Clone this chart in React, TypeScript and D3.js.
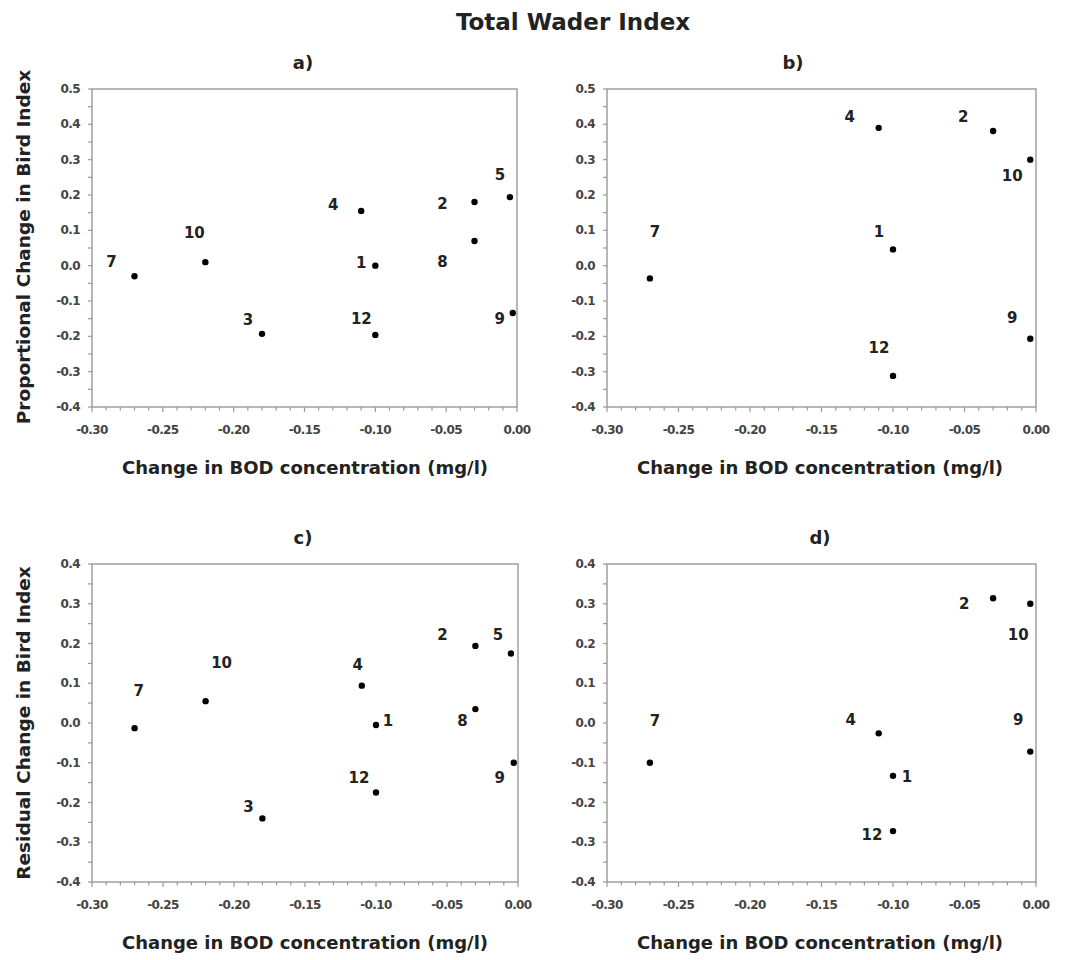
import React from "react";
import * as d3 from "d3";

// ---------- DATA ----------
const xDomain: [number, number] = [-0.3, 0];
const yDomainTop: [number, number] = [-0.4, 0.5];
const yDomainBottom: [number, number] = [-0.4, 0.4];

const sitesA = ["7", "10", "3", "4", "1", "12", "2", "8", "5", "9"];
const bodA = [-0.27, -0.22, -0.18, -0.11, -0.1, -0.1, -0.03, -0.03, -0.005, -0.003];
const propA = [-0.03, 0.01, -0.193, 0.155, 0.0, -0.196, 0.18, 0.07, 0.194, -0.134];

const sitesB = ["7", "4", "1", "12", "2", "10", "9"];
const bodB = [-0.27, -0.11, -0.1, -0.1, -0.03, -0.004, -0.004];
const propB = [-0.036, 0.39, 0.046, -0.312, 0.381, 0.3, -0.207];

const sitesC = ["7", "10", "3", "4", "1", "12", "2", "8", "5", "9"];
const bodC = [-0.27, -0.22, -0.18, -0.11, -0.1, -0.1, -0.03, -0.03, -0.005, -0.003];
const residC = [-0.013, 0.055, -0.24, 0.094, -0.005, -0.175, 0.194, 0.035, 0.175, -0.1];

const sitesD = ["7", "4", "1", "12", "2", "10", "9"];
const bodD = [-0.27, -0.11, -0.1, -0.1, -0.03, -0.004, -0.004];
const residD = [-0.1, -0.026, -0.133, -0.272, 0.314, 0.3, -0.072];

const xTicks = [-0.3, -0.25, -0.2, -0.15, -0.1, -0.05, 0.0];
const yTicksTop = [0.5, 0.4, 0.3, 0.2, 0.1, 0.0, -0.1, -0.2, -0.3, -0.4];
const yTicksBottom = [0.4, 0.3, 0.2, 0.1, 0.0, -0.1, -0.2, -0.3, -0.4];

const chartTitle = "Total Wader Index";
const xAxisTitle = "Change in BOD concentration (mg/l)";
const yTitleTop = "Proportional Change in Bird Index";
const yTitleBottom = "Residual Change in Bird Index";

// ---------- LAYOUT (pixel label offsets relative to each point) ----------
const offA: [number, number][] = [[-23, -14], [-11, -29], [-14, -14], [-28, -6], [-14, -3], [-14, -16], [-32, 2], [-32, 21], [-10, -22], [-13, 6]];
const offB: [number, number][] = [[5, -46], [-29, -11], [-14, -17], [-14, -28], [-30, -14], [-18, 16], [-18, -21]];
const offC: [number, number][] = [[4, -37], [16, -38], [-14, -11], [-4, -21], [12, -4], [-17, -15], [-33, -11], [-13, 12], [-13, -18], [-14, 15]];
const offD: [number, number][] = [[5, -42], [-28, -13], [14, 1], [-21, 4], [-29, 6], [-12, 31], [-12, -32]];

const FONT = "'DejaVu Sans', Verdana, sans-serif";
const frameColor = "#999";
const tickTextColor = "#444";
const textColor = "#222";

type PanelProps = {
  x0: number; x1: number; y0: number; y1: number;
  yDomain: [number, number];
  yTicks: number[];
  sites: string[]; xs: number[]; ys: number[];
  offsets: [number, number][];
  letter: string; letterX: number; letterY: number;
  xTitleY: number; xTitleX: number;
};

function Panel(p: PanelProps) {
  const xs = d3.scaleLinear().domain(xDomain).range([p.x0, p.x1]);
  const ys = d3.scaleLinear().domain(p.yDomain).range([p.y1, p.y0]);
  const xMinor = d3.range(0, 31).map((i) => -0.3 + i * 0.01);
  const nY = Math.round((p.yDomain[1] - p.yDomain[0]) / 0.05);
  const yMinor = d3.range(0, nY + 1).map((i) => p.yDomain[0] + i * 0.05);
  const fx = (v: number) => (Math.abs(v) < 1e-9 ? "0.00" : v.toFixed(2));
  const fy = (v: number) => (Math.abs(v) < 1e-9 ? "0.0" : v.toFixed(1));
  return (
    <g>
      <text x={p.letterX} y={p.letterY} textAnchor="middle" dominantBaseline="central"
        fontFamily={FONT} fontWeight="bold" fontSize={18} fill={textColor}>{p.letter}</text>
      <rect x={p.x0} y={p.y0} width={p.x1 - p.x0} height={p.y1 - p.y0}
        fill="none" stroke={frameColor} strokeWidth={1.4} />
      {xMinor.map((v, i) => (
        <line key={"xm" + i} x1={xs(v)} x2={xs(v)} y1={p.y1} y2={p.y1 + (i % 5 === 0 ? 5 : 3.5)} stroke={frameColor} strokeWidth={1.2} />
      ))}
      {yMinor.map((v, i) => (
        <line key={"ym" + i} x1={p.x0 - 4} x2={p.x0} y1={ys(v)} y2={ys(v)} stroke={frameColor} strokeWidth={1.2} />
      ))}
      {xTicks.map((v, i) => (
        <text key={"xt" + i} x={xs(v)} y={p.y1 + 23} textAnchor="middle" dominantBaseline="central"
          fontFamily={FONT} fontWeight="bold" fontSize={12} letterSpacing={-0.6} fill={tickTextColor}>{fx(v)}</text>
      ))}
      {p.yTicks.map((v, i) => (
        <text key={"yt" + i} x={p.x0 - 12} y={ys(v)} textAnchor="end" dominantBaseline="central"
          fontFamily={FONT} fontWeight="bold" fontSize={12} letterSpacing={-0.6} fill={tickTextColor}>{fy(v)}</text>
      ))}
      {p.xs.map((v, i) => (
        <circle key={"pt" + i} cx={xs(v)} cy={ys(p.ys[i])} r={3.2} fill="#000" />
      ))}
      {p.sites.map((s, i) => (
        <text key={"lb" + i} x={xs(p.xs[i]) + p.offsets[i][0]} y={ys(p.ys[i]) + p.offsets[i][1]}
          textAnchor="middle" dominantBaseline="central" fontFamily={FONT} fontWeight="bold"
          fontSize={15} fill={textColor}>{s}</text>
      ))}
      <text x={p.xTitleX} y={p.xTitleY} textAnchor="middle" dominantBaseline="central"
        fontFamily={FONT} fontWeight="bold" fontSize={18} fill={textColor}>{xAxisTitle}</text>
    </g>
  );
}

export default function App() {
  const W = 1069, H = 960;
  return (
    <svg width={W} height={H} style={{ position: "absolute", left: 0, top: 0, display: "block", background: "#fff" }}>
      <rect x={0} y={0} width={W} height={H} fill="#fff" />
      <text x={573} y={22} textAnchor="middle" dominantBaseline="central" fontFamily={FONT}
        fontWeight="bold" fontSize={23} fill={textColor}>{chartTitle}</text>
      <Panel x0={92} x1={517} y0={89} y1={407} yDomain={yDomainTop} yTicks={yTicksTop}
        sites={sitesA} xs={bodA} ys={propA} offsets={offA} letter="a)" letterX={303} letterY={62} xTitleX={305} xTitleY={467} />
      <Panel x0={607} x1={1036} y0={89} y1={407} yDomain={yDomainTop} yTicks={yTicksTop}
        sites={sitesB} xs={bodB} ys={propB} offsets={offB} letter="b)" letterX={793} letterY={62} xTitleX={820} xTitleY={467} />
      <Panel x0={92} x1={518} y0={564} y1={882} yDomain={yDomainBottom} yTicks={yTicksBottom}
        sites={sitesC} xs={bodC} ys={residC} offsets={offC} letter="c)" letterX={303} letterY={537} xTitleX={305} xTitleY={942} />
      <Panel x0={607} x1={1036} y0={564} y1={882} yDomain={yDomainBottom} yTicks={yTicksBottom}
        sites={sitesD} xs={bodD} ys={residD} offsets={offD} letter="d)" letterX={820} letterY={537} xTitleX={820} xTitleY={942} />
      <text transform="translate(23,247) rotate(-90)" textAnchor="middle" dominantBaseline="central"
        fontFamily={FONT} fontWeight="bold" fontSize={18.5} fill={textColor}>{yTitleTop}</text>
      <text transform="translate(23,723) rotate(-90)" textAnchor="middle" dominantBaseline="central"
        fontFamily={FONT} fontWeight="bold" fontSize={18.5} fill={textColor}>{yTitleBottom}</text>
    </svg>
  );
}
